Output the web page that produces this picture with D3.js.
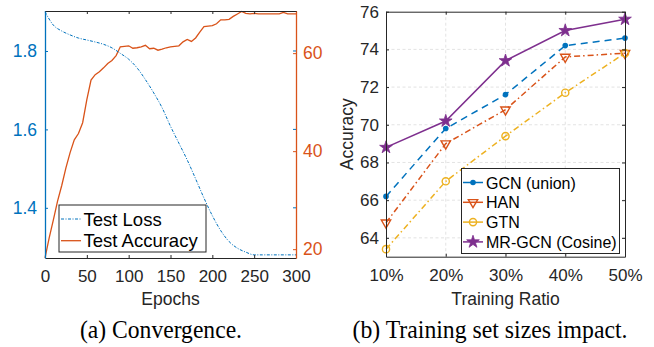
<!DOCTYPE html>
<html>
<head>
<meta charset="utf-8">
<script src="https://cdn.jsdelivr.net/npm/d3@7"></script>
<style>
  body { margin: 0; background: #fff; }
  svg { display: block; font-family: "Liberation Sans", Arial, Helvetica, sans-serif; }
</style>
</head>
<body>
<svg id="chart" width="654" height="347"></svg>
<script>
// ---- data ----

// (a) convergence, accuracy every 5 epochs, loss every 10 epochs
const accEpochs = d3.range(0, 301, 5);
const testAccuracy = [
  18.2, 22.3, 26.0, 29.8, 33.0, 36.6, 39.7, 42.3, 43.6, 45.8,
  50.5, 54.5, 55.6, 56.2, 57.0, 57.9, 58.5, 59.5, 61.3, 61.4,
  61.5, 61.0, 61.1, 61.3, 61.6, 60.9, 61.0, 60.6, 60.8, 61.1,
  61.3, 61.4, 61.5, 62.3, 62.8, 62.4, 63.1, 64.3, 65.4, 65.5,
  65.6, 66.0, 66.8, 66.8, 66.9, 67.5, 68.0, 68.5, 68.1, 68.0,
  68.1, 68.0, 68.0, 68.0, 68.0, 68.0, 68.0, 68.3, 68.0, 68.0,
  68.0
];
const lossEpochs = d3.range(0, 301, 10);
const testLoss = [
  1.900, 1.866, 1.851, 1.841, 1.833, 1.828, 1.823, 1.817, 1.808, 1.794,
  1.779, 1.757, 1.727, 1.693, 1.655, 1.608, 1.565, 1.522, 1.474, 1.425,
  1.380, 1.342, 1.314, 1.297, 1.287, 1.280, 1.280, 1.280, 1.280, 1.280,
  1.280
];
const epochTicks = [0, 50, 100, 150, 200, 250, 300];
const lossTicks = [1.4, 1.6, 1.8];
const accTicks = [20, 40, 60];

// (b) training set sizes
const ratios = ["10%", "20%", "30%", "40%", "50%"];
const gcnUnion = [66.2, 69.8, 71.6, 74.2, 74.6];
const han = [64.8, 69.0, 70.8, 73.6, 73.8];
const gtn = [63.4, 67.0, 69.4, 71.7, 73.8];
const mrGcn = [68.8, 70.2, 73.4, 75.0, 75.6];
const accuracyTicks = [64, 66, 68, 70, 72, 74, 76];

const blue = "#0072BD", orange = "#D95319", yellow = "#EDB120", purple = "#7E2F8E";
const ink = "#262626";
const svg = d3.select("#chart");

// ---------- (a) Convergence ----------
function drawConvergence() {
  const x = d3.scaleLinear().domain([0, 300]).range([45, 296]);
  const yLoss = d3.scaleLinear().domain([1.272, 1.902]).range([258, 11]);
  const yAcc = d3.scaleLinear().domain([18.2, 68.6]).range([258, 11]);
  const g = svg.append("g");

  // curves
  g.append("path")
    .datum(testAccuracy.map((v, i) => [accEpochs[i], v]))
    .attr("fill", "none").attr("stroke", orange).attr("stroke-width", 1.3)
    .attr("d", d3.line().x(d => x(d[0])).y(d => yAcc(d[1])));

  g.append("path")
    .datum(testLoss.map((v, i) => [lossEpochs[i], v]))
    .attr("fill", "none").attr("stroke", blue).attr("stroke-width", 1)
    .attr("stroke-dasharray", "3,1.5,1,1.5")
    .attr("d", d3.line().curve(d3.curveMonotoneX).x(d => x(d[0])).y(d => yLoss(d[1])));

  // x axes (bottom + top), inward ticks
  const xb = g.append("g").attr("transform", "translate(0,258)")
    .call(d3.axisBottom(x).tickValues(epochTicks).tickSizeInner(-3).tickSizeOuter(0).tickPadding(12));
  const xt = g.append("g").attr("transform", "translate(0,11)")
    .call(d3.axisTop(x).tickValues(epochTicks).tickSizeInner(-3).tickSizeOuter(0).tickFormat(""));
  [xb, xt].forEach(a => {
    a.select(".domain").attr("stroke", ink);
    a.selectAll(".tick line").attr("stroke", ink);
  });
  xb.selectAll("text").attr("fill", ink).attr("font-size", "17px");

  // left loss axis
  const yl = g.append("g").attr("transform", "translate(45,0)")
    .call(d3.axisLeft(yLoss).tickValues(lossTicks).tickSizeInner(-3).tickSizeOuter(0).tickPadding(8).tickFormat(d3.format(".1f")));
  yl.select(".domain").attr("stroke", blue).attr("stroke-width", 1.3);
  yl.selectAll(".tick line").attr("stroke", blue);
  yl.selectAll("text").attr("fill", blue).attr("font-size", "17.5px");

  // right accuracy axis
  const yr = g.append("g").attr("transform", "translate(296,0)")
    .call(d3.axisRight(yAcc).tickValues(accTicks).tickSizeInner(-3).tickSizeOuter(0).tickPadding(7));
  yr.select(".domain").attr("stroke", orange).attr("stroke-width", 1.3);
  yr.selectAll(".tick line").attr("stroke", orange);
  yr.selectAll("text").attr("fill", orange).attr("font-size", "17.5px");

  // mirrored loss ticks on the right side
  g.append("g").selectAll("line").data(lossTicks).join("line")
    .attr("x1", 293).attr("x2", 296)
    .attr("y1", d => yLoss(d)).attr("y2", d => yLoss(d))
    .attr("stroke", blue);

  g.append("text").attr("x", 170.5).attr("y", 305).attr("text-anchor", "middle")
    .attr("fill", ink).attr("font-size", "17.5px").text("Epochs");

  // legend
  const lg = g.append("g");
  lg.append("rect").attr("x", 59).attr("y", 205).attr("width", 147).attr("height", 47)
    .attr("fill", "#fff").attr("stroke", ink).attr("stroke-width", 1);
  const items = [
    { name: "Test Loss", color: blue, dash: "3,1.5,1,1.5", w: 1 },
    { name: "Test Accuracy", color: orange, dash: null, w: 1.3 }
  ];
  items.forEach((it, i) => {
    const cy = 219 + i * 21.7;
    lg.append("line").attr("x1", 61).attr("x2", 81).attr("y1", cy).attr("y2", cy)
      .attr("stroke", it.color).attr("stroke-width", it.w).attr("stroke-dasharray", it.dash);
    lg.append("text").attr("x", 83.5).attr("y", cy + 6.5).attr("fill", "#000")
      .attr("font-size", "18.5px").text(it.name);
  });

  svg.append("text").attr("x", 161).attr("y", 338).attr("text-anchor", "middle")
    .attr("font-family", "'Liberation Serif', 'Times New Roman', serif")
    .attr("font-size", "26px").attr("textLength", 162).attr("lengthAdjust", "spacingAndGlyphs")
    .attr("fill", "#000").text("(a) Convergence.");
}

// ---------- (b) Training set sizes ----------
function drawTraining() {
  const left = 386, right = 625, top = 11.7, bottom = 256.7;
  const x = d3.scalePoint().domain(ratios).range([left, right]);
  const y = d3.scaleLinear().domain([63, 76]).range([bottom, top]);
  const g = svg.append("g");

  // grid
  g.append("g").selectAll("line").data(ratios.slice(1, -1)).join("line")
    .attr("x1", d => x(d)).attr("x2", d => x(d)).attr("y1", top).attr("y2", bottom)
    .attr("stroke", "#dcdcdc").attr("stroke-width", 0.8).attr("stroke-dasharray", "3,2.5");
  g.append("g").selectAll("line").data(accuracyTicks.slice(0, -1)).join("line")
    .attr("x1", left).attr("x2", right).attr("y1", d => y(d)).attr("y2", d => y(d))
    .attr("stroke", "#dcdcdc").attr("stroke-width", 0.8).attr("stroke-dasharray", "3,2.5");

  const series = [
    { name: "GCN (union)", values: gcnUnion, color: blue, dash: "7,5", marker: "dot" },
    { name: "HAN", values: han, color: orange, dash: "6,3,1.5,3", marker: "tri" },
    { name: "GTN", values: gtn, color: yellow, dash: "6,3,1.5,3", marker: "circle" },
    { name: "MR-GCN (Cosine)", values: mrGcn, color: purple, dash: null, marker: "star" }
  ];

  const line = d3.line().x(d => x(d[0])).y(d => y(d[1]));

  function marker(sel, type, color) {
    if (type === "dot") {
      sel.append("circle").attr("r", 2.8).attr("fill", color);
    } else if (type === "circle") {
      sel.append("circle").attr("r", 3.6).attr("fill", "none").attr("stroke", color).attr("stroke-width", 1.4);
    } else if (type === "tri") {
      sel.append("path").attr("d", d3.symbol(d3.symbolTriangle, 38)).attr("transform", "rotate(180)")
        .attr("fill", "none").attr("stroke", color).attr("stroke-width", 1.4);
    } else {
      sel.append("path").attr("d", d3.symbol(d3.symbolStar, 50))
        .attr("fill", color).attr("stroke", color).attr("stroke-width", 0.8);
    }
  }

  series.forEach(s => {
    const pts = s.values.map((v, i) => [ratios[i], v]);
    g.append("path").datum(pts).attr("fill", "none").attr("stroke", s.color)
      .attr("stroke-width", 1.5).attr("stroke-dasharray", s.dash).attr("d", line);
    pts.forEach(p => {
      const m = g.append("g").attr("transform", `translate(${x(p[0])},${y(p[1])})`);
      marker(m, s.marker, s.color);
    });
  });

  // axes with box
  const xb = g.append("g").attr("transform", `translate(0,${bottom})`)
    .call(d3.axisBottom(x).tickSizeInner(-3).tickSizeOuter(0).tickPadding(12));
  const xt = g.append("g").attr("transform", `translate(0,${top})`)
    .call(d3.axisTop(x).tickSizeInner(-3).tickSizeOuter(0).tickFormat(""));
  const yl = g.append("g").attr("transform", `translate(${left},0)`)
    .call(d3.axisLeft(y).tickValues(accuracyTicks).tickSizeInner(-3).tickSizeOuter(0).tickPadding(7));
  const yr = g.append("g").attr("transform", `translate(${right},0)`)
    .call(d3.axisRight(y).tickValues(accuracyTicks).tickSizeInner(-3).tickSizeOuter(0).tickFormat(""));
  [xb, xt, yl, yr].forEach(a => {
    a.select(".domain").attr("stroke", ink);
    a.selectAll(".tick line").attr("stroke", ink);
    a.selectAll("text").attr("fill", ink).attr("font-size", "17px");
  });

  g.append("text").attr("x", (left + right) / 2).attr("y", 305).attr("text-anchor", "middle")
    .attr("fill", ink).attr("font-size", "17.5px").text("Training Ratio");
  g.append("text").attr("transform", `translate(353,${(top + bottom) / 2}) rotate(-90)`)
    .attr("text-anchor", "middle").attr("fill", ink).attr("font-size", "17.5px").text("Accuracy");

  // legend
  const lg = g.append("g");
  lg.append("rect").attr("x", 461.5).attr("y", 168.5).attr("width", 158).attr("height", 85)
    .attr("fill", "#fff").attr("stroke", ink).attr("stroke-width", 1);
  series.forEach((s, i) => {
    const cy = 182.5 + i * 19.8;
    lg.append("line").attr("x1", 463).attr("x2", 483).attr("y1", cy).attr("y2", cy)
      .attr("stroke", s.color).attr("stroke-width", 1.5);
    marker(lg.append("g").attr("transform", `translate(473,${cy})`), s.marker, s.color);
    lg.append("text").attr("x", 486).attr("y", cy + 6).attr("fill", "#000")
      .attr("font-size", "16px").text(s.name);
  });

  svg.append("text").attr("x", 490).attr("y", 338).attr("text-anchor", "middle")
    .attr("font-family", "'Liberation Serif', 'Times New Roman', serif")
    .attr("font-size", "26px").attr("textLength", 275).attr("lengthAdjust", "spacingAndGlyphs")
    .attr("fill", "#000").text("(b) Training set sizes impact.");
}

drawConvergence();
drawTraining();
</script>
</body>
</html>
